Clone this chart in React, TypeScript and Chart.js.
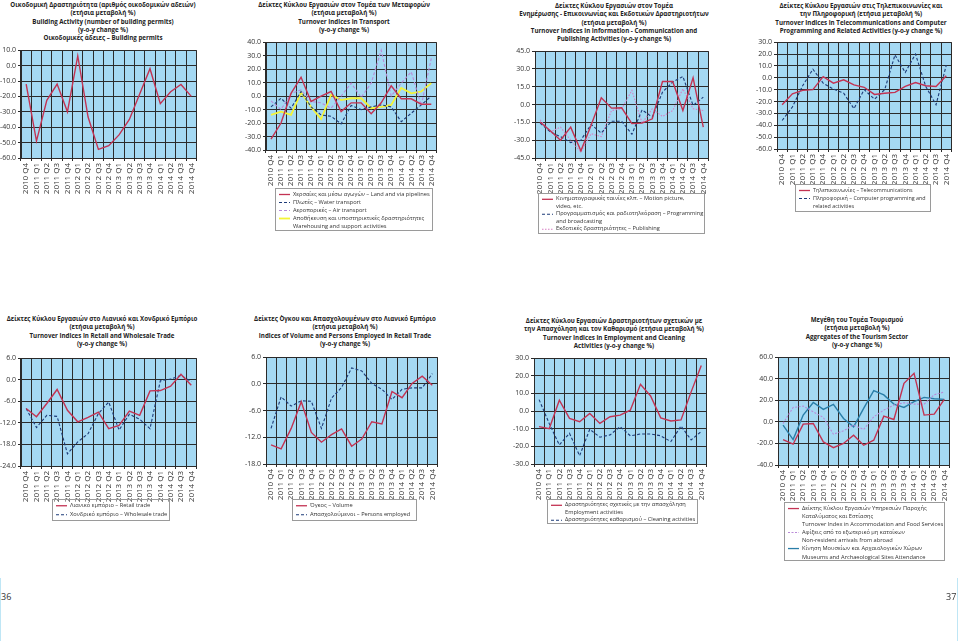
import React, { useEffect, useRef } from "react";
import { Chart, registerables } from "chart.js";
Chart.register(...registerables);

const FONT = "'Open Sans', 'Noto Sans', 'DejaVu Sans', sans-serif";

const quarters = [
  "2010 Q4", "2011 Q1", "2011 Q2", "2011 Q3", "2011 Q4",
  "2012 Q1", "2012 Q2", "2012 Q3", "2012 Q4",
  "2013 Q1", "2013 Q2", "2013 Q3", "2013 Q4",
  "2014 Q1", "2014 Q2", "2014 Q3", "2014 Q4",
];

// Panel 1: building permits
const buildingPermits = [-12, -49, -22.5, -12, -30, 6.3, -33.4, -54.4, -52, -45, -35, -18.5, -2, -24.7, -17, -12.3, -20];
// Panel 2: transport
const transportLand = [-32, -20, 2, 14, -4, 0, 3.4, -11.5, -5, -5, -13, -5, 7.6, -2, -2, -6, -6];
const transportWater = [-8, -1.6, -9, 3.4, -8, -14, -15, -20.6, -7, -10, -8, -6.5, -8, -19, -12.7, -6.5, 0];
const transportAir = [-3.6, -10, 2, 4.6, -4, -5, -9, 0, 9.6, -1, 9.6, 34, 0, 9.6, 18, -7, 28];
const transportWarehousing = [-14, -11.5, -14, 2.6, -8, -17, 1, -3, -1.6, -1.6, -9, -8, -6.5, 6, 2, 3.4, 9.6];
// Panel 3: information & communication
const infoMotion = [-14.7, -22, -30, -19, -39, -17.5, 5.7, -3, -2.7, -16, -15.6, -12, 19.5, 19.5, -5, 22.6, -19];
const infoProgramming = [-15.6, -23, -27, -32, -30, -16.7, -24, -14, -14, -25, -4.4, -10.5, 10.5, 19, 23.7, -0.7, 6.3];
const infoPublishing = [-12.8, -23, -19, -30, -40, -24.5, -27, -5, -3.5, 12, -15.6, -3.5, -10, -5, 13.3, -3.5, -5];
// Panel 4: telecom & computer
const telecom = [-22.7, -13.5, -10.6, -10, 1, -4.5, -1.7, -6, -8, -14, -13, -12.3, -7.3, -4, -6.7, -7.3, 1.7];
const computer = [-36, -24.6, -6.7, 7.3, -4.5, -9.5, -13, -26, -10, -18, -10, 19.3, 4.5, 20, -7.3, -22.7, 10.6];
// Panel 5: retail & wholesale
const retail = [-8, -10.3, -6.6, -2.7, -8.5, -11.7, -10.5, -9, -13.6, -12.7, -8.7, -9.9, -3.1, -3, -1.8, 1.5, -1.5];
const wholesale = [-8, -13.3, -9.9, -10.2, -20.6, -17.3, -15, -9.4, -6.2, -14, -9.6, -11, -13.6, -0.3, 0.2, 1.2, -0.5];
// Panel 6: retail volume & persons employed
const volume = [-13.7, -14.6, -10, -4, -10.9, -13.1, -11.4, -10.1, -14, -12.4, -8.5, -9, -1.7, -3.1, 0.1, 1.75, -0.3];
const persons = [-10, -2.9, -5, -3.8, -3.9, -10, -3.2, -0.8, 3.6, 2.9, 0.1, -1.2, -3.5, -1.2, -0.9, -0.9, 2.3];
// Panel 7: employment & cleaning
const employment = [-8.8, -10, 6.2, -4.1, -6, -1.3, -7, -3.2, -2.3, 0.5, 15.2, 8.6, -3.8, -5.6, -5, 10.9, 25.9];
const cleaning = [6.5, -7, -19.2, -12.6, -25.3, -10.3, -14.8, -13.5, -8.8, -14, -13, -13, -14, -17.3, -8.5, -16.3, -11.6];
// Panel 8: tourism
const accommodation = [-16.4, -20.7, -2.1, -1.5, -18.6, -23.9, -20, -12.4, -21.7, -17, 5.3, 2.2, 35.8, 45, 6.3, 7.2, 20.9];
const arrivals = [-1.5, 13.4, 14.6, 9.4, 4.1, -11.4, -8.3, -3, -7, 4.7, 10.9, 15.6, 17.8, 16.5, 16.5, 25.2, 27.7];
const museums = [-3, -16.4, 6.3, 18, 11.6, 16.2, 3.2, -4.6, 12.5, 29, 25, 16.5, 13.4, 18.7, 22.7, 21.5, 20.9];

const RED = "#c33353";
const NAVY = "#1d3b78";
const LAVENDER = "#b98ad8";
const YELLOW = "#f4f437";
const PINK = "#d77fc4";
const TEAL = "#2a7ea8";

type Series = { label: string[]; data: number[]; color: string; dash?: number[]; width?: number };
type Box = { l: number; t: number; r: number; b: number };

const bgPlugin = {
  id: "plotBg",
  beforeDraw(chart: any) {
    const { ctx, chartArea } = chart;
    ctx.save();
    ctx.fillStyle = "#a5d9f3";
    ctx.fillRect(chartArea.left, chartArea.top, chartArea.width, chartArea.height);
    ctx.restore();
  },
};

function LineChart({ box, yMin, yMax, step, series }: { box: Box; yMin: number; yMax: number; step: number; series: Series[] }) {
  const ref = useRef<HTMLCanvasElement>(null);
  const yW = 30, xH = 42, padT = 6, padR = 4;
  const w = yW + (box.r - box.l) + padR;
  const h = padT + (box.b - box.t) + xH;
  useEffect(() => {
    const chart = new Chart(ref.current as HTMLCanvasElement, {
      type: "line",
      data: {
        labels: quarters,
        datasets: series.map((s) => ({
          label: s.label.join(" "),
          data: s.data,
          borderColor: s.color,
          backgroundColor: s.color,
          borderWidth: s.width ?? 1.4,
          borderDash: s.dash ?? [],
          pointRadius: 0,
          tension: 0,
          fill: false,
        })),
      },
      options: {
        animation: false,
        responsive: false,
        maintainAspectRatio: false,
        layout: { padding: { top: padT, right: padR, left: 0, bottom: 0 } },
        plugins: { legend: { display: false }, tooltip: { enabled: false }, title: { display: false } },
        scales: {
          x: {
            type: "category",
            offset: true,
            grid: { offset: true, color: "#2b2b2b", lineWidth: 1, tickLength: 3 },
            border: { color: "#2b2b2b", width: 1 },
            ticks: {
              autoSkip: false,
              maxRotation: 90,
              minRotation: 90,
              padding: 2,
              color: "#333",
              font: { family: FONT, size: 8 },
            },
            afterFit: (s: any) => { s.height = xH; },
          },
          y: {
            min: yMin,
            max: yMax,
            grid: { color: "#2b2b2b", lineWidth: 1, tickLength: 3 },
            border: { color: "#2b2b2b", width: 1 },
            ticks: {
              stepSize: step,
              padding: 2,
              color: "#333",
              font: { family: FONT, size: 7 },
              callback: (v: any) => Number(v).toFixed(1),
            },
            afterFit: (s: any) => { s.width = yW; },
          },
        },
      } as any,
      plugins: [bgPlugin],
    });
    return () => chart.destroy();
  }, []);
  return (
    <canvas
      ref={ref}
      width={w}
      height={h}
      style={{ position: "absolute", left: box.l - yW, top: box.t - padT, width: w, height: h }}
    />
  );
}

function Title({ cx, top, lines, width = 260 }: { cx: number; top: number; lines: string[]; width?: number }) {
  return (
    <div
      style={{
        position: "absolute",
        left: cx - width / 2,
        top,
        width,
        textAlign: "center",
        fontFamily: FONT,
        fontWeight: 700,
        fontSize: 6.2,
        lineHeight: "8.3px",
        color: "#222",
        whiteSpace: "nowrap",
      }}
    >
      {lines.map((l, i) => (
        <div key={i}>{l}</div>
      ))}
    </div>
  );
}

function Legend({ box, items, lh = 8, fs = 5.7 }: { box: Box; items: Series[]; lh?: number; fs?: number }) {
  return (
    <div
      style={{
        position: "absolute",
        left: box.l,
        top: box.t,
        width: box.r - box.l,
        height: box.b - box.t,
        border: "1px solid #9a9a9a",
        boxSizing: "border-box",
        padding: "1px 3px 0 3px",
        fontFamily: FONT,
        fontSize: fs,
        lineHeight: `${lh}px`,
        color: "#333",
        overflow: "hidden",
      }}
    >
      {items.map((it, i) => (
        <div key={i} style={{ display: "flex" }}>
          <svg width={11} height={lh} style={{ flex: "none", marginRight: 3 }}>
            <line
              x1={0}
              y1={lh / 2 + 0.5}
              x2={11}
              y2={lh / 2 + 0.5}
              stroke={it.color}
              strokeWidth={it.width ?? 1.3}
              strokeDasharray={it.dash ? it.dash.join(" ") : undefined}
            />
          </svg>
          <div>
            {it.label.map((l, j) => (
              <div key={j} style={{ whiteSpace: "nowrap", height: lh }}>{l}</div>
            ))}
          </div>
        </div>
      ))}
    </div>
  );
}

const DASH = [3, 2];

const p1Series: Series[] = [
  { label: ["Οικοδομικές άδειες – Building permits"], data: buildingPermits, color: RED, width: 1.4 },
];
const p2Series: Series[] = [
  { label: ["Χερσαίες και μέσω αγωγών – Land and via pipelines"], data: transportLand, color: RED },
  { label: ["Πλωτές – Water transport"], data: transportWater, color: NAVY, dash: DASH, width: 1.1 },
  { label: ["Αεροπορικές – Air transport"], data: transportAir, color: LAVENDER, dash: DASH, width: 1.1 },
  { label: ["Αποθήκευση και υποστηρικτικές δραστηριότητες", "Warehousing and support activities"], data: transportWarehousing, color: YELLOW, width: 1.8 },
];
const p3Series: Series[] = [
  { label: ["Κινηματογραφικές ταινίες κλπ. – Motion picture,", "video, etc."], data: infoMotion, color: RED },
  { label: ["Προγραμματισμός και ραδιοτηλεόραση – Programming", "and broadcasting"], data: infoProgramming, color: NAVY, dash: DASH, width: 1.1 },
  { label: ["Εκδοτικές δραστηριότητες – Publishing"], data: infoPublishing, color: PINK, dash: [1.5, 1.5], width: 1.1 },
];
const p4Series: Series[] = [
  { label: ["Τηλεπικοινωνίες – Telecommunications"], data: telecom, color: RED },
  { label: ["Πληροφορική – Computer programming and", "related activities"], data: computer, color: NAVY, dash: DASH, width: 1.1 },
];
const p5Series: Series[] = [
  { label: ["Λιανικό εμπόριο – Retail trade"], data: retail, color: RED },
  { label: ["Χονδρικό εμπόριο – Wholesale trade"], data: wholesale, color: NAVY, dash: DASH, width: 1.1 },
];
const p6Series: Series[] = [
  { label: ["Όγκος – Volume"], data: volume, color: RED },
  { label: ["Απασχολούμενοι – Persons employed"], data: persons, color: NAVY, dash: DASH, width: 1.1 },
];
const p7Series: Series[] = [
  { label: ["Δραστηριότητες σχετικές με την απασχόληση", "Employment activities"], data: employment, color: RED },
  { label: ["Δραστηριότητες καθαρισμού – Cleaning activities"], data: cleaning, color: NAVY, dash: DASH, width: 1.1 },
];
const p8Series: Series[] = [
  { label: ["Δείκτης Κύκλου Εργασιών Υπηρεσιών Παροχής", "Καταλύματος και Εστίασης", "Turnover Index in Accommodation and Food Services"], data: accommodation, color: RED },
  { label: ["Αφίξεις από το εξωτερικό μη κατοίκων", "Non-resident arrivals from abroad"], data: arrivals, color: LAVENDER, dash: [2, 1.5], width: 1.1 },
  { label: ["Κίνηση Μουσείων και Αρχαιολογικών Χώρων", "Museums and Archaeological Sites Attendance"], data: museums, color: TEAL },
];

export default function App() {
  return (
    <div
      style={{
        position: "absolute",
        left: 0,
        top: 0,
        width: 960,
        height: 641,
        overflow: "hidden",
        background: "#fff",
      }}
    >
      {/* Panel 1 */}
      <Title cx={103} top={1} lines={[
        "Οικοδομική Δραστηριότητα (αριθμός οικοδομικών αδειών)",
        "(ετήσια μεταβολή %)",
        "Building Activity (number of building permits)",
        "(y-o-y change %)",
        "Οικοδομικές άδειες – Building permits",
      ]} />
      <LineChart box={{ l: 21, t: 50, r: 199, b: 158 }} yMin={-60} yMax={10} step={10} series={p1Series} />

      {/* Panel 2 */}
      <Title cx={344} top={1} lines={[
        "Δείκτες Κύκλου Εργασιών στον Τομέα των Μεταφορών",
        "(ετήσια μεταβολή %)",
        "Turnover Indices in Transport",
        "(y-o-y change %)",
      ]} />
      <LineChart box={{ l: 266, t: 42, r: 439, b: 150 }} yMin={-40} yMax={40} step={10} series={p2Series} />
      <Legend box={{ l: 275, t: 188, r: 433, b: 231 }} items={p2Series} lh={8} />

      {/* Panel 3 */}
      <Title cx={614} top={2} lines={[
        "Δείκτες Κύκλου Εργασιών στον Τομέα",
        "Ενημέρωσης - Επικοινωνίας και Εκδοτικών Δραστηριοτήτων",
        "(ετήσια μεταβολή %)",
        "Turnover Indices in Information - Communication and",
        "Publishing Activities (y-o-y change %)",
      ]} />
      <LineChart box={{ l: 535, t: 51, r: 711, b: 158 }} yMin={-45} yMax={45} step={15} series={p3Series} />
      <Legend box={{ l: 538, t: 193, r: 705, b: 234 }} items={p3Series} lh={7.6} />

      {/* Panel 4 */}
      <Title cx={861} top={2} lines={[
        "Δείκτες Κύκλου Εργασιών στις Τηλεπικοινωνίες και",
        "την Πληροφορική (ετήσια μεταβολή %)",
        "Turnover Indices in Telecommunications and Computer",
        "Programming and Related Activities (y-o-y change %)",
      ]} />
      <LineChart box={{ l: 777, t: 42, r: 954, b: 149 }} yMin={-60} yMax={30} step={10} series={p4Series} />
      <Legend box={{ l: 795, t: 184, r: 931, b: 212 }} items={p4Series} lh={8} fs={5.4} />

      {/* Panel 5 */}
      <Title cx={102} top={315} lines={[
        "Δείκτες Κύκλου Εργασιών στο Λιανικό και Χονδρικό Εμπόριο",
        "(ετήσια μεταβολή %)",
        "Turnover Indices in Retail and Wholesale Trade",
        "(y-o-y change %)",
      ]} />
      <LineChart box={{ l: 21, t: 358, r: 199, b: 466 }} yMin={-24} yMax={6} step={6} series={p5Series} />
      <Legend box={{ l: 52, t: 499, r: 170, b: 521 }} items={p5Series} lh={8.5} />

      {/* Panel 6 */}
      <Title cx={345} top={315} lines={[
        "Δείκτες ΄Ογκου και Απασχολουμένων στο Λιανικό Εμπόριο",
        "(ετήσια μεταβολή %)",
        "Indices of Volume and Persons Employed in Retail Trade",
        "(y-o-y change %)",
      ]} />
      <LineChart box={{ l: 266, t: 357, r: 440, b: 464 }} yMin={-18} yMax={6} step={6} series={p6Series} />
      <Legend box={{ l: 292, t: 499, r: 417, b: 521 }} items={p6Series} lh={8.5} />

      {/* Panel 7 */}
      <Title cx={614} top={317} lines={[
        "Δείκτες Κύκλου Εργασιών Δραστηριοτήτων σχετικών με",
        "την Απασχόληση και τον Καθαρισμό (ετήσια μεταβολή %)",
        "Turnover Indices in Employment and Cleaning",
        "Activities (y-o-y change %)",
      ]} />
      <LineChart box={{ l: 534, t: 358, r: 709, b: 464 }} yMin={-30} yMax={30} step={10} series={p7Series} />
      <Legend box={{ l: 547, t: 499, r: 698, b: 524 }} items={p7Series} lh={7.6} />

      {/* Panel 8 */}
      <Title cx={857} top={316} lines={[
        "Μεγέθη του Τομέα Τουρισμού",
        "(ετήσια μεταβολή %)",
        "Aggregates of the Tourism Sector",
        "(y-o-y change %)",
      ]} />
      <LineChart box={{ l: 778, t: 357, r: 952, b: 465 }} yMin={-40} yMax={60} step={20} series={p8Series} />
      <Legend box={{ l: 784, t: 502, r: 945, b: 561 }} items={p8Series} lh={8.1} />

      {/* page numbers */}
      <div style={{ position: "absolute", left: 0, top: 578, width: 1, height: 63, background: "#bfe6f5" }} />
      <div style={{ position: "absolute", left: 957, top: 578, width: 1, height: 63, background: "#bfe6f5" }} />
      <div style={{ position: "absolute", left: 1, top: 592, fontFamily: FONT, fontSize: 9, color: "#333", lineHeight: "10px" }}>36</div>
      <div style={{ position: "absolute", left: 946, top: 592, fontFamily: FONT, fontSize: 9, color: "#333", lineHeight: "10px" }}>37</div>
    </div>
  );
}
